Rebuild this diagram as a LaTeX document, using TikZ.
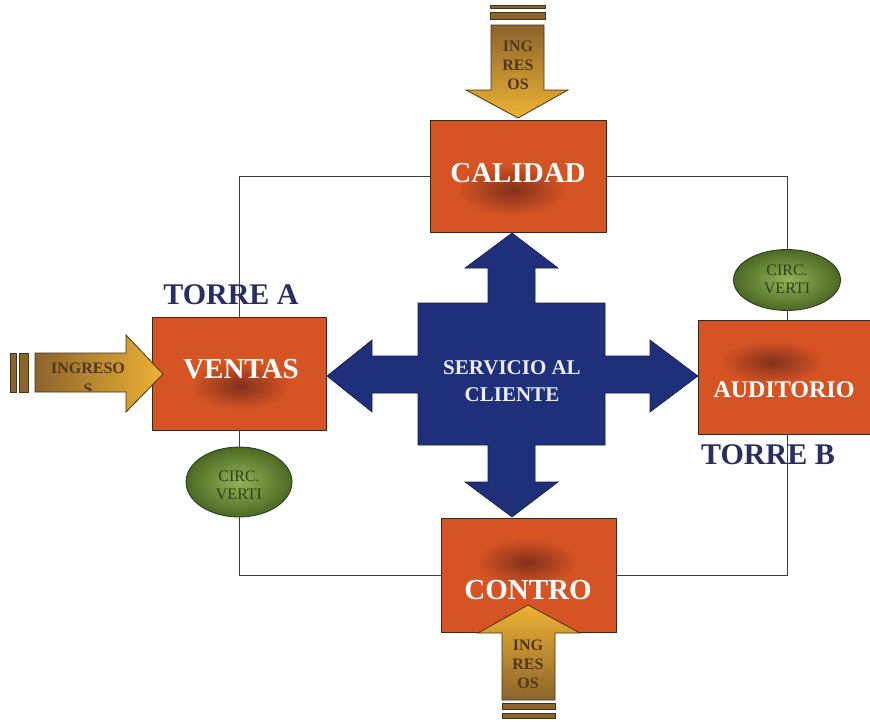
\documentclass[tikz,border=0pt]{standalone}
\usepackage{fontspec}
\setmainfont{Liberation Serif}
\usetikzlibrary{shapes.geometric}
\definecolor{boxor}{RGB}{214,84,36}
\definecolor{boxline}{RGB}{70,35,20}
\definecolor{blurc}{RGB}{130,48,28}
\definecolor{navy}{RGB}{30,48,122}
\definecolor{navyline}{RGB}{20,30,80}
\definecolor{goldl}{RGB}{238,178,52}
\definecolor{goldd}{RGB}{140,100,45}
\definecolor{goldline}{RGB}{70,50,20}
\definecolor{gtext}{RGB}{80,55,25}
\definecolor{greenin}{RGB}{150,178,85}
\definecolor{greenout}{RGB}{75,105,35}
\definecolor{greenline}{RGB}{40,55,25}
\definecolor{greentext}{RGB}{45,65,28}
\definecolor{torrec}{RGB}{40,45,100}
\definecolor{connc}{RGB}{60,60,60}
\tikzset{
  boxnode/.style={draw=boxline, line width=0.8pt, fill=boxor, rectangle, inner sep=0pt},
  boxtext/.style={text=white, font=\bfseries\fontsize{29}{32}\selectfont, inner sep=0pt},
  conn/.style={draw=connc, line width=0.9pt},
  ellnode/.style={ellipse, draw=greenline, line width=0.8pt, inner color=greenin, outer color=greenout, inner sep=0pt},
  elltext/.style={text=greentext, font=\fontsize{16}{18}\selectfont, align=center, inner sep=0pt},
  torre/.style={text=torrec, font=\bfseries\fontsize{30}{32}\selectfont, inner sep=0pt},
  goldtext/.style={text=gtext, font=\bfseries\fontsize{16}{19}\selectfont, align=center, inner sep=0pt},
  goldarrow/.style={draw=goldline, line width=0.8pt},
  goldbar/.style={draw=goldline, line width=0.6pt, fill=goldd},
}
\begin{document}
\begin{tikzpicture}[x=1pt,y=-1pt]
\clip (0,0) rectangle (870,721);
\fill[white] (0,0) rectangle (870,721);

% boxes and ellipses
\node[boxnode, minimum width=176pt, minimum height=112pt] (cal) at (518,176) {};
\node[boxnode, minimum width=174pt, minimum height=113pt] (ven) at (239,373.5) {};
\node[boxnode, minimum width=178pt, minimum height=114pt] (aud) at (787,377) {};
\node[boxnode, minimum width=175pt, minimum height=114pt] (con) at (528.5,575) {};
\node[ellnode, minimum width=107pt, minimum height=61pt] (ellR) at (787,280) {};
\node[ellnode, minimum width=106pt, minimum height=70pt] (ellL) at (239,482) {};

% connectors
\draw[conn] (cal.west) -| (ven.north);
\draw[conn] (cal.east) -| (ellR.north);
\draw[conn] (ellR.south) -- (aud.north);
\draw[conn] (aud.south) |- (con.east);
\draw[conn] (ven.south) -- (ellL.north);
\draw[conn] (ellL.south) |- (con.west);

% redraw boxes on top of connectors
\node[boxnode, minimum width=176pt, minimum height=112pt] at (cal) {};
\node[boxnode, minimum width=174pt, minimum height=113pt] at (ven) {};
\node[boxnode, minimum width=178pt, minimum height=114pt] at (aud) {};
\node[boxnode, minimum width=175pt, minimum height=114pt] at (con) {};

% dark blur spots
\shade[inner color=blurc, outer color=boxor] (512,190) ellipse (55 and 26);
\shade[inner color=blurc, outer color=boxor] (240,386) ellipse (50 and 24);
\shade[inner color=blurc, outer color=boxor] (772,362) ellipse (52 and 22);
\shade[inner color=blurc, outer color=boxor] (527,562) ellipse (52 and 24);

% central blue shape
\draw[fill=navy, draw=navyline, line width=0.6pt]
 (512,233) -- (558,268) -- (535,268) -- (535,303) -- (605,303) -- (605,356)
 -- (650,356) -- (650,340) -- (698,376) -- (650,412) -- (650,393) -- (605,393)
 -- (605,445) -- (535,445) -- (535,482) -- (558,482) -- (512,517) -- (465,482)
 -- (488,482) -- (488,445) -- (418,445) -- (418,393) -- (372,393) -- (372,412)
 -- (327,376) -- (372,340) -- (372,356) -- (418,356) -- (418,303) -- (488,303)
 -- (488,268) -- (465,268) -- cycle;
\node[text=white!92!navy, font=\bfseries\fontsize{21}{27}\selectfont, align=center, inner sep=0pt] (serv) at (512,381) {SERVICIO AL\\CLIENTE};

% gold arrow top
\draw[goldbar] (490,5) rectangle (545,8.5);
\draw[goldbar] (490,12.5) rectangle (545,19);
\draw[goldarrow, top color=goldd, bottom color=goldl]
 (491,25) -- (544,25) -- (544,90) -- (568,90) -- (518,118) -- (466,90) -- (491,90) -- cycle;
\node[goldtext] (ingT) at (518,65.5) {ING\\RES\\OS};

% gold arrow left
\draw[goldbar] (10,353) rectangle (16,392);
\draw[goldbar] (19.5,353) rectangle (28,392);
\draw[goldarrow, left color=goldd, right color=goldl]
 (35,353) -- (126,353) -- (126,335) -- (163,374) -- (126,412) -- (126,392) -- (35,392) -- cycle;
\begin{scope}
\clip (36,354) rectangle (126,390);
\node[goldtext, font=\bfseries\fontsize{16}{21}\selectfont] (ingL) at (88,379) {INGRESO\\S};
\end{scope}

% gold arrow bottom
\draw[goldarrow, top color=goldl, bottom color=goldd]
 (528,605) -- (580,633) -- (555,633) -- (555,700) -- (502,700) -- (502,633) -- (478,633) -- cycle;
\draw[goldbar] (502,703) rectangle (555,709);
\draw[goldbar] (502,713) rectangle (555,718);
\node[goldtext] (ingB) at (528,664.5) {ING\\RES\\OS};

% box labels
\node[boxtext] (calt) at (518,173) {CALIDAD};
\node[boxtext] (vent) at (241,369) {VENTAS};
\node[boxtext, font=\bfseries\fontsize{24}{26}\selectfont] (audt) at (784,390) {AUDITORIO};
\node[boxtext] (cont) at (528,590) {CONTRO};

% ellipse labels
\node[elltext] (eRt) at (787,279) {CIRC.\\VERTI};
\node[elltext] (eLt) at (239,485) {CIRC.\\VERTI};

% torre labels
\node[torre] (ta) at (231,295) {TORRE A};
\node[torre] (tb) at (768,455) {TORRE B};
\end{tikzpicture}
\end{document}
